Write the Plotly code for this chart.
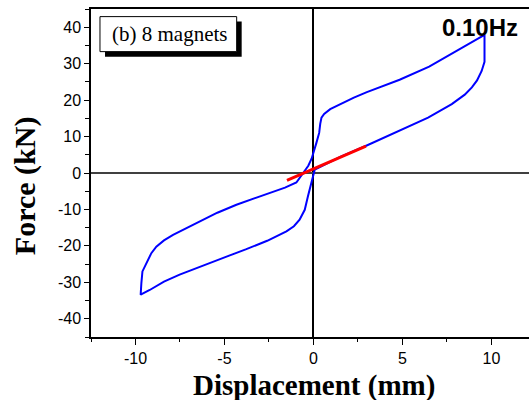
import plotly.graph_objects as go

# Hysteresis loop, 8 magnets, 0.10 Hz (displacement in mm, force in kN)
loop_disp = [
    9.61, 8.21, 6.50, 4.84, 4.17, 3.00, 2.27, 1.40, 0.94, 0.60, 0.45, 0.38,
    0.32, 0.16, 0.02, -0.10, -0.29, -0.50, -0.75, -0.96, -1.60, -2.46, -3.40,
    -4.33, -5.40, -6.39, -7.20, -7.89, -8.40, -8.83, -9.11, -9.39, -9.61,
    -9.67, -9.71,
    -9.20, -8.40, -7.52, -6.60, -5.65, -4.70, -3.77, -2.60, -1.52, -1.10,
    -0.78, -0.49, -0.31, -0.12, 0.07, 0.30, 0.50, 1.50, 2.93, 4.00,
    5.00, 6.44, 7.77, 8.50, 8.90, 9.19, 9.45, 9.61, 9.61,
]
loop_force = [
    37.9, 33.9, 29.2, 25.6, 24.4, 22.2, 20.7, 18.7, 17.5, 16.2, 15.2, 13.5,
    11.0, 8.2, 6.2, 4.0, 2.0, 0.6, -1.0, -2.6, -4.0, -5.5, -7.1,
    -8.7, -10.9, -13.3, -15.2, -17.0, -18.5, -20.2, -22.0, -24.7, -27.0,
    -30.2, -33.4,
    -32.1, -29.8, -27.9, -26.1, -24.3, -22.6, -20.9, -18.6, -16.0, -14.6,
    -12.8, -10.1, -6.4, -2.7, 0.9, 1.5, 2.0, 4.4, 7.4, 9.8,
    11.9, 15.2, 18.9, 21.5, 23.5, 25.4, 28.0, 30.5, 37.9,
]

# Linear fit segment through the origin region
fit_disp = [-1.49, 2.95]
fit_force = [-2.0, 7.35]

x_ticks = [-10, -5, 0, 5, 10]
y_ticks = [-40, -30, -20, -10, 0, 10, 20, 30, 40]

fig = go.Figure()
fig.add_trace(go.Scatter(
    x=loop_disp, y=loop_force, mode="lines",
    line=dict(color="#0000ff", width=2), hoverinfo="skip",
))
fig.add_trace(go.Scatter(
    x=fit_disp, y=fit_force, mode="lines",
    line=dict(color="#ff0000", width=3), hoverinfo="skip",
))

tick_font = dict(family="Liberation Sans, Arial, sans-serif", size=16, color="black")

fig.update_xaxes(
    range=[-12.5, 12.11], tickvals=x_ticks, ticktext=[str(v) for v in x_ticks],
    ticks="outside", ticklen=6, tickwidth=1.3, tickcolor="black",
    minor=dict(dtick=2.5, tick0=0, ticks="outside", ticklen=3, tickcolor="black", tickwidth=1.3),
    showline=True, linecolor="black", linewidth=1.5, mirror=True,
    showgrid=False, zeroline=True, zerolinecolor="black", zerolinewidth=1.5,
    tickfont=tick_font,
)
fig.update_yaxes(
    range=[-45, 45], tickvals=y_ticks, ticktext=[str(v) for v in y_ticks],
    ticks="outside", ticklen=5, tickwidth=1.3, tickcolor="black",
    minor=dict(dtick=5, tick0=0, ticks="outside", ticklen=4, tickcolor="black", tickwidth=1.3),
    showline=True, linecolor="black", linewidth=1.5,
    showgrid=False, zeroline=True, zerolinecolor="#404040", zerolinewidth=2,
    tickfont=tick_font,
)

# Label box with drop shadow
fig.add_shape(type="rect", xref="paper", yref="paper",
              x0=0.032, x1=0.344, y0=0.8547, y1=0.9616,
              fillcolor="black", line=dict(width=0), layer="above")
fig.add_shape(type="rect", xref="paper", yref="paper",
              x0=0.0205, x1=0.3326, y0=0.870, y1=0.9768,
              fillcolor="white", line=dict(color="black", width=1), layer="above")

fig.add_annotation(text="(b) 8 magnets", xref="paper", yref="paper",
                   x=0.179, y=0.9225, xanchor="center", yanchor="middle",
                   showarrow=False,
                   font=dict(family="Liberation Serif, Times New Roman, serif", size=21, color="black"))
fig.add_annotation(text="<b>0.10Hz</b>", xref="paper", yref="paper",
                   x=0.888, y=0.945, xanchor="center", yanchor="middle",
                   showarrow=False,
                   font=dict(family="Liberation Sans, Arial, sans-serif", size=24, color="black"))

# Axis titles
fig.add_annotation(text="<b>Displacement (mm)</b>", xref="paper", yref="paper",
                   x=0.5087, y=-0.147, xanchor="center", yanchor="middle",
                   showarrow=False,
                   font=dict(family="Liberation Serif, Times New Roman, serif", size=29, color="black"))
fig.add_annotation(text="<b>Force (kN)</b>", xref="paper", yref="paper",
                   x=-0.1507, y=0.463, xanchor="center", yanchor="middle",
                   textangle=-90, showarrow=False,
                   font=dict(family="Liberation Serif, Times New Roman, serif", size=30, color="black"))

fig.update_layout(
    width=529, height=400,
    margin=dict(l=91, r=0, t=9, b=63),
    paper_bgcolor="white", plot_bgcolor="white",
    showlegend=False,
)

fig.write_html("out.html")
